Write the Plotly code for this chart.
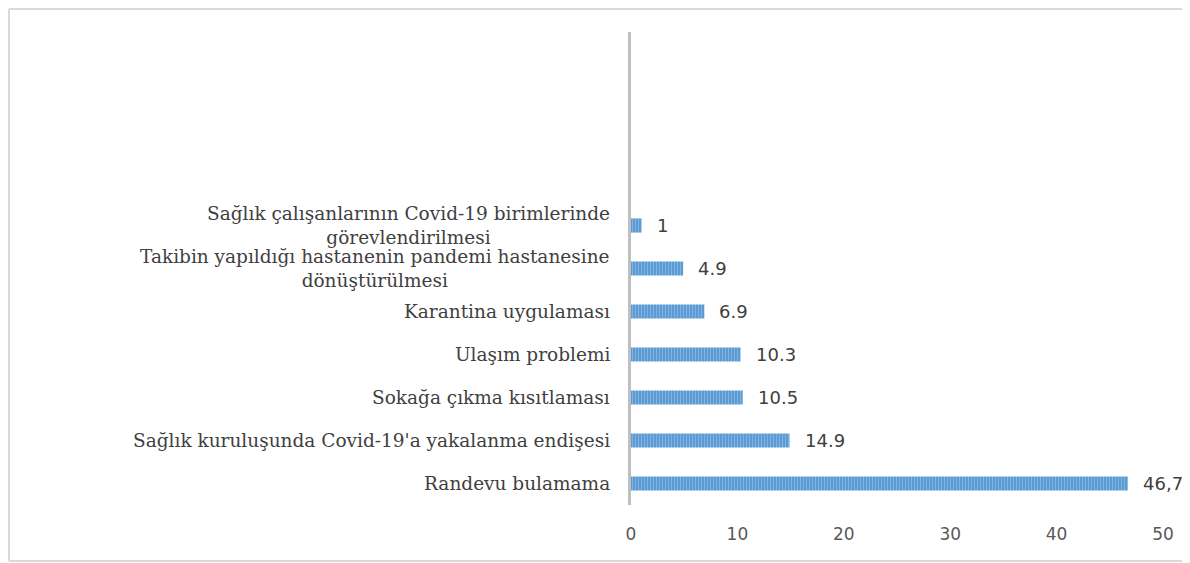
import plotly.graph_objects as go

categories = [
    "Randevu bulamama",
    "Sağlık kuruluşunda Covid-19'a yakalanma endişesi",
    "Sokağa çıkma kısıtlaması",
    "Ulaşım problemi",
    "Karantina uygulaması",
    "Takibin yapıldığı hastanenin pandemi hastanesine<br>dönüştürülmesi",
    "Sağlık çalışanlarının Covid-19 birimlerinde<br>görevlendirilmesi",
]
values = [46.7, 14.9, 10.5, 10.3, 6.9, 4.9, 1]
value_labels = ["46,7", "14.9", "10.5", "10.3", "6.9", "4.9", "1"]
x_ticks = [0, 10, 20, 30, 40, 50]

# page has an 8px body margin, so figure is drawn 8px in from the top-left
OFF = 8
W, H = 1190 - OFF, 563 - OFF
ml, mr, mt, mb = 631 - OFF, 27, 32 - OFF, 58
pw, ph = W - ml - mr, H - mt - mb

fig = go.Figure()
fig.add_trace(go.Bar(
    x=values, y=categories, orientation="h", width=0.33,
    marker=dict(
        color="#5B9BD5",
        line=dict(width=0),
        pattern=dict(shape="|", bgcolor="#5B9BD5", fgcolor="#B4D2EE",
                     size=3, solidity=0.3),
    ),
    hoverinfo="skip",
))

annotations = []
for c, v, t in zip(categories, values, value_labels):
    annotations.append(dict(
        x=v, y=c, xref="x", yref="y", text=t, showarrow=False,
        xanchor="left", yanchor="middle", xshift=13,
        font=dict(family="DejaVu Sans, sans-serif", size=18, color="#404040"),
    ))
    annotations.append(dict(
        x=0, y=c, xref="paper", yref="y", text=c, showarrow=False,
        xanchor="right", yanchor="middle", xshift=-19, align="center",
        font=dict(family="DejaVu Serif, serif", size=18.5, color="#404040"),
    ))

def px_x(p):
    return (p - OFF - ml) / pw

def px_y(p):
    return (H - mb - (p - OFF)) / ph

border = dict(color="#D9D9D9", width=2)
left, right, top, bottom = px_x(9), px_x(1200), px_y(9), px_y(561)
fig.add_shape(type="line", xref="paper", yref="paper", x0=left, x1=left, y0=bottom, y1=top, line=border, layer="below")
fig.add_shape(type="line", xref="paper", yref="paper", x0=left, x1=right, y0=top, y1=top, line=border, layer="below")
fig.add_shape(type="line", xref="paper", yref="paper", x0=left, x1=right, y0=bottom, y1=bottom, line=border, layer="below")

fig.update_layout(
    width=W, height=H,
    margin=dict(l=ml, r=mr, t=mt, b=mb),
    paper_bgcolor="white", plot_bgcolor="white",
    showlegend=False,
    annotations=annotations,
    xaxis=dict(range=[0, 50], tickvals=x_ticks, showgrid=False, zeroline=False,
               showline=False, ticks="", ticklabelstandoff=17,
               tickfont=dict(family="DejaVu Sans, sans-serif", size=17, color="#595959"),
               fixedrange=True),
    yaxis=dict(type="category", categoryarray=categories, range=[-0.5, 10.5],
               showticklabels=False, showgrid=False, zeroline=False,
               showline=True, linecolor="#BFBFBF", linewidth=3, ticks="",
               fixedrange=True),
)

fig.write_html("out.html")
